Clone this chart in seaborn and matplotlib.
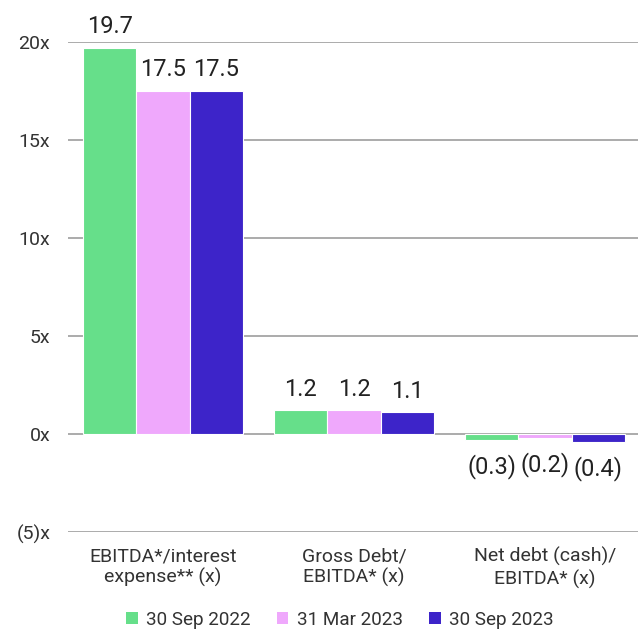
import matplotlib
matplotlib.use("Agg")
import matplotlib.pyplot as plt
import seaborn as sns
import pandas as pd
from matplotlib.patches import Patch

categories = ["EBITDA*/interest\nexpense** (x)", "Gross Debt/\nEBITDA* (x)", "Net debt (cash)/\nEBITDA* (x)"]
periods = ["30 Sep 2022", "31 Mar 2023", "30 Sep 2023"]
sep_2022 = [19.7, 1.2, -0.3]
mar_2023 = [17.5, 1.2, -0.2]
sep_2023 = [17.5, 1.1, -0.4]
y_ticks = [-5, 0, 5, 10, 15, 20]
y_tick_labels = ["(5)x", "0x", "5x", "10x", "15x", "20x"]
colors = ["#66DF8A", "#EFA8FC", "#3D24C9"]

rows = []
for period, vals in zip(periods, [sep_2022, mar_2023, sep_2023]):
    for cat, v in zip(categories, vals):
        rows.append({"category": cat, "period": period, "value": v})
df = pd.DataFrame(rows)

sns.set_theme(style="white")
plt.rcParams["font.family"] = ["Roboto", "DejaVu Sans"]

fig = plt.figure(figsize=(6.38, 6.30), dpi=100)
ax = fig.add_axes([67.5 / 638, 98 / 630, 573 / 638, 490 / 630])

sns.barplot(data=df, x="category", y="value", hue="period", order=categories,
            hue_order=periods, palette=colors, width=0.835, gap=0,
            edgecolor="white", linewidth=0.8, saturation=1, legend=False, ax=ax)

ax.set_ylim(-5, 20)
ax.set_xlim(-0.5, 2.5)
ax.set_yticks(y_ticks)
ax.set_yticklabels(y_tick_labels, fontsize=14, color="#333333")
ax.tick_params(axis="y", length=0, pad=12.5)
ax.tick_params(axis="x", length=0, pad=11, labelsize=14, labelcolor="#333333")
ax.set_xlabel("")
ax.set_ylabel("")
for s in ax.spines.values():
    s.set_visible(False)
ax.yaxis.grid(True, color="#ababab", linewidth=1.4)
ax.set_axisbelow(True)

for container in ax.containers:
    labels = []
    for bar in container:
        h = bar.get_height()
        labels.append(f"({abs(h):.1f})" if h < 0 else f"{h:.1f}")
    texts = ax.bar_label(container, labels=labels, padding=7, fontsize=17,
                         color="#222222", clip_on=False)
    # negative values sit a little further below their bars
    for t, bar in zip(texts, container):
        if bar.get_height() < 0:
            t.xyann = (0, -10)

handles = [Patch(facecolor=c, edgecolor="none") for c in colors]
fig.legend(handles, periods, loc="center", bbox_to_anchor=(0.533, 0.016),
           ncol=3, frameon=False, fontsize=13.6, handlelength=0.6, handleheight=0.6,
           handletextpad=0.45, columnspacing=1.4, labelcolor="#333333")

fig.savefig("out.png", dpi=100)
